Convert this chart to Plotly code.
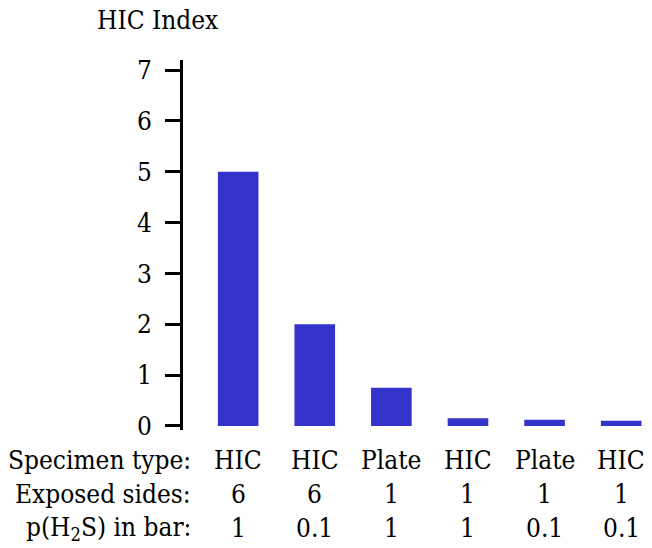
import plotly.graph_objects as go

# HIC index for each test condition
specimen_type = ["HIC", "HIC", "Plate", "HIC", "Plate", "HIC"]
exposed_sides = ["6", "6", "1", "1", "1", "1"]
p_h2s = ["1", "0.1", "1", "1", "0.1", "0.1"]
hic_index = [5.0, 2.0, 0.75, 0.15, 0.12, 0.1]

FONT = "'DejaVu Serif Condensed', 'DejaVu Serif', serif"
FS = 26
BAR_COLOR = "#3333cc"

W, H = 652, 548
ML, MR, MT, MB = 183, 4, 60, 118
plot_h = H - MT - MB

positions = list(range(len(hic_index)))

fig = go.Figure(
    go.Bar(
        x=positions,
        y=hic_index,
        marker=dict(color=BAR_COLOR, line=dict(width=0)),
        width=0.53,
        hoverinfo="skip",
    )
)


def row_y(px):
    return (H - MB - px) / plot_h


rows = [
    ("Specimen type:", specimen_type, 460),
    ("Exposed sides:", exposed_sides, 494),
    ("p(H<sub>2</sub>S) in bar:", p_h2s, 528),
]

annotations = []
for label, values, py in rows:
    annotations.append(
        dict(
            text=label, xref="paper", yref="paper", x=(193 - ML) / (W - ML - MR),
            y=row_y(py), xanchor="right", yanchor="middle", showarrow=False,
            font=dict(family=FONT, size=FS, color="black"),
        )
    )
    for xi, v in zip(positions, values):
        annotations.append(
            dict(
                text=v, xref="x", yref="paper", x=xi, y=row_y(py),
                xanchor="center", yanchor="middle", showarrow=False,
                font=dict(family=FONT, size=FS, color="black"),
            )
        )

annotations.append(
    dict(
        text="HIC Index", xref="paper", yref="paper",
        x=(95 - ML) / (W - ML - MR), y=row_y(20),
        xanchor="left", yanchor="middle", showarrow=False,
        font=dict(family=FONT, size=FS, color="black"),
    )
)

fig.update_layout(
    width=W, height=H,
    margin=dict(l=ML, r=MR, t=MT, b=MB, pad=0),
    paper_bgcolor="white", plot_bgcolor="white",
    showlegend=False,
    font=dict(family=FONT, color="black"),
    annotations=annotations,
    xaxis=dict(visible=False, range=[-0.72, 5.35], fixedrange=True),
    yaxis=dict(
        range=[-0.08, 7.2],
        tickvals=[0, 1, 2, 3, 4, 5, 6, 7],
        showline=True, linecolor="black", linewidth=3,
        ticks="outside", ticklen=15, tickwidth=3, tickcolor="black",
        ticklabelstandoff=8,
        tickfont=dict(family=FONT, size=FS, color="black"),
        showgrid=False, zeroline=False, fixedrange=True,
    ),
)

fig.write_html("out.html")
